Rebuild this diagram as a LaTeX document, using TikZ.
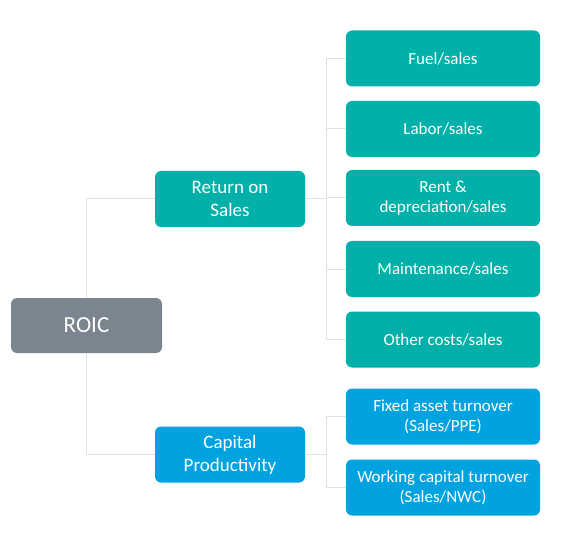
\documentclass[tikz,border=0pt]{standalone}
\usepackage{fontspec}
\setmainfont{Carlito}
\usepackage{xcolor}
\definecolor{roicgray}{HTML}{7A8590}
\definecolor{salesteal}{HTML}{00B0A9}
\definecolor{capblue}{HTML}{00A3E0}
\definecolor{linkgray}{HTML}{DDE2E6}
\begin{document}
\begin{tikzpicture}[x=1pt,y=1pt,%
% common options for boxes:
box/.style = {rectangle, rounded corners=6pt, text=white, align=center,
            inner sep=0, font=\fontsize{17}{20}\selectfont},
% the two middle boxes:
mid/.style = {box, minimum width=150pt, minimum height=56pt,
            font=\fontsize{19}{23}\selectfont},
% right column:
leaf/.style = {box, minimum width=194pt, minimum height=56pt},
% light connectors:
link/.style = {draw=linkgray, line width=1pt}]
\useasboundingbox (0,0) rectangle (565,-540);
\node[box,fill=roicgray,minimum width=151pt,minimum height=55pt,
      font=\fontsize{23}{27}\selectfont] (R0) at (86.5,-325.5) {ROIC};
\node[mid,fill=salesteal] (S0) at (230,-199) {Return on\\Sales};
\node[mid,fill=capblue] (C0) at (230,-454.5) {Capital\\Productivity};
\node[leaf,fill=salesteal] (S1) at (443,-58.5) {Fuel/sales};
\node[leaf,fill=salesteal] (S2) at (443,-129) {Labor/sales};
\node[leaf,fill=salesteal] (S3) at (443,-198) {Rent \&\\depreciation/sales};
\node[leaf,fill=salesteal] (S4) at (443,-269) {Maintenance/sales};
\node[leaf,fill=salesteal] (S5) at (443,-339.5) {Other costs/sales};
\node[leaf,fill=capblue] (C1) at (443,-416.5) {Fixed asset turnover\\(Sales/PPE)};
\node[leaf,fill=capblue] (C2) at (443,-487.5) {Working capital turnover\\(Sales/NWC)};
\coordinate (jS) at (326,-199);
\coordinate (jC) at (326,-454.5);
\draw[link] (S0.west) -| (R0.north);
\draw[link] (C0.west) -| (R0.south);
\draw[link] (S0.east) -- (jS);
\draw[link] (S1.west) -| (jS);
\draw[link] (S5.west) -| (jS);
\draw[link] (S2.west) -- (S2.west -| jS);
\draw[link] (S3.west) -- (S3.west -| jS);
\draw[link] (S4.west) -- (S4.west -| jS);
\draw[link] (C0.east) -- (jC);
\draw[link] (C1.west) -| (jC);
\draw[link] (C2.west) -| (jC);
\end{tikzpicture}
\end{document}
